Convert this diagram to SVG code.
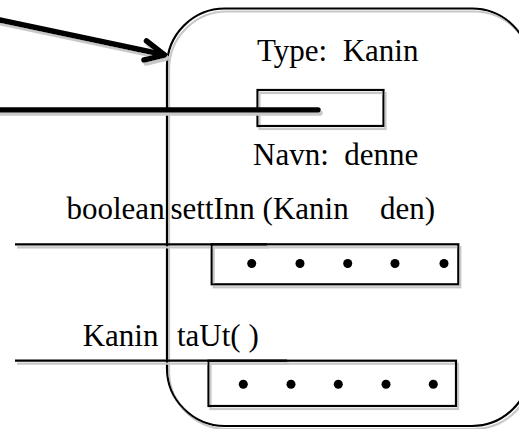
<svg xmlns="http://www.w3.org/2000/svg" width="519" height="429" viewBox="0 0 519 429">
  <defs>
    <filter id="sh" filterUnits="userSpaceOnUse" x="0" y="0" width="519" height="429">
      <feOffset in="SourceAlpha" dx="1.5" dy="2.5" result="o"/>
      <feFlood flood-color="#c8c8c8" result="c"/>
      <feComposite in="c" in2="o" operator="in" result="s"/>
      <feMerge><feMergeNode in="s"/><feMergeNode in="SourceGraphic"/></feMerge>
    </filter>
  </defs>
  <style>
    .txt { font-family: "Liberation Serif", "Times New Roman", serif; font-size: 31px; fill: #000; }
    .thin { fill: none; stroke: #000; stroke-width: 2.2; }
    .thick { fill: none; stroke: #000; stroke-width: 5.5; stroke-linecap: round; stroke-linejoin: round; }
    .dot { fill: #000; }
  </style>
  <rect width="519" height="429" fill="#fff"/>

  <g id="object" filter="url(#sh)">
    <rect class="thin" x="167" y="8.5" width="363" height="417.5" rx="58" ry="58"/>
  </g>

  <g id="type-label">
    <text class="txt" x="257" y="60.7" xml:space="preserve">Type:  Kanin</text>
  </g>

  <g id="name-box">
    <rect class="thin" x="257.5" y="90" width="126" height="36" filter="url(#sh)"/>
    <text class="txt" x="253" y="165" xml:space="preserve">Navn:  denne</text>
  </g>

  <g id="method-settInn">
    <text class="txt" x="66.5" y="219">boolean</text>
    <text class="txt" x="170.5" y="219">settInn (Kanin<tspan x="380">den)</tspan></text>
    <g filter="url(#sh)">
      <line class="thin" x1="15" y1="244.3" x2="267" y2="244.3"/>
      <rect class="thin" x="211.7" y="244.3" width="246.6" height="40"/>
    </g>
    <circle class="dot" cx="251.7" cy="263.5" r="4.5"/>
    <circle class="dot" cx="300" cy="263.5" r="4.5"/>
    <circle class="dot" cx="347.7" cy="263.5" r="4.5"/>
    <circle class="dot" cx="395" cy="263.5" r="4.5"/>
    <circle class="dot" cx="444" cy="263.5" r="4.5"/>
  </g>

  <g id="method-taUt">
    <text class="txt" x="82.7" y="346">Kanin</text>
    <text class="txt" x="177" y="346">taUt( )</text>
    <g filter="url(#sh)">
      <line class="thin" x1="15" y1="360.7" x2="287" y2="360.7"/>
      <rect class="thin" x="208.5" y="360.7" width="247.5" height="45.3"/>
    </g>
    <circle class="dot" cx="243.3" cy="384.3" r="4.5"/>
    <circle class="dot" cx="291" cy="384.3" r="4.5"/>
    <circle class="dot" cx="338.3" cy="384.3" r="4.5"/>
    <circle class="dot" cx="386" cy="384.3" r="4.5"/>
    <circle class="dot" cx="433.3" cy="384.3" r="4.5"/>
  </g>

  <g id="connectors" filter="url(#sh)">
    <path class="thick" d="M -5 19 L 163 54.5"/>
    <path class="thick" d="M 146.5 41 L 164.5 55 L 144 60"/>
    <path class="thick" d="M -5 110 L 318 110" stroke-linecap="butt"/>
  </g>
</svg>
